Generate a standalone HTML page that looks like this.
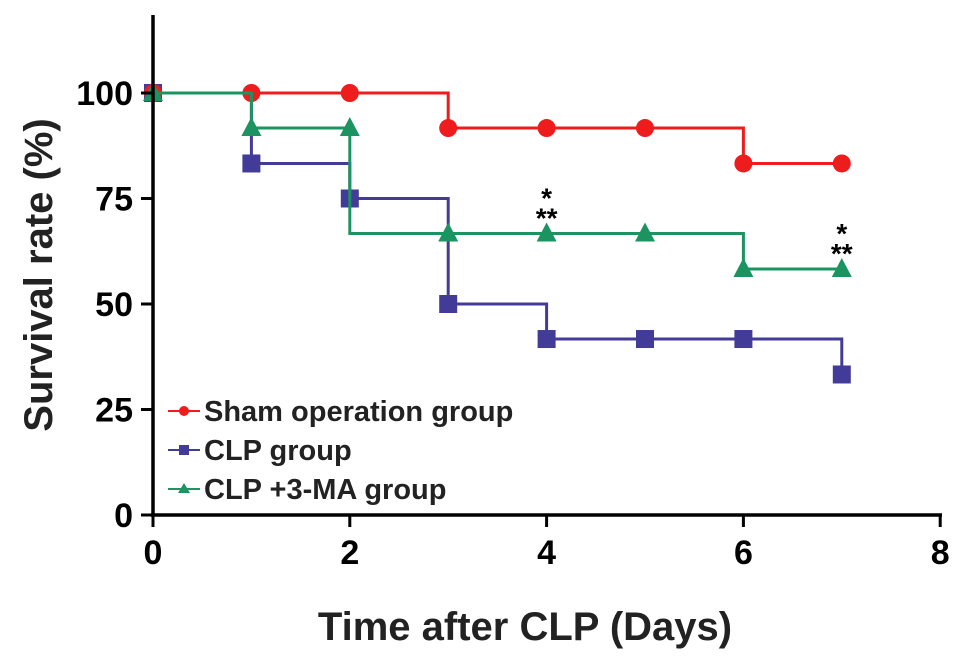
<!DOCTYPE html>
<html><head><meta charset="utf-8"><style>
body{margin:0;background:#fff;}
svg text{font-family:"Liberation Sans",Arial,sans-serif;font-weight:bold;}
</style></head><body>
<svg id="chart" width="969" height="657" xmlns="http://www.w3.org/2000/svg"></svg>
<script>
const days=[0,1,2,3,4,5,6,7];
const shamLine=[100,100,100,91.7,91.7,91.7,83.3,83.3];
const shamMarks=[100,100,100,91.7,91.7,91.7,83.3,83.3];
const clpLine=[100,83.3,75,50,41.7,41.7,41.7,33.3];
const clpMarks=[100,83.3,75,50,41.7,41.7,41.7,33.3];
const maLine=[100,91.7,66.7,66.7,66.7,66.7,58.3,58.3];
const maMarks=[100,91.7,91.7,66.7,66.7,66.7,58.3,58.3];
const xTicks=[0,2,4,6,8];
const yTicks=[0,25,50,75,100];
const sigDays=[4,7];
const sigVals=[66.7,58.3];

const svg=document.getElementById('chart');
const NS='http://www.w3.org/2000/svg';
const X=d=>153+d*98.4;
const Y=v=>515-v*4.22;
function mk(tag,attrs,name,parent){const e=document.createElementNS(NS,tag);for(const k in attrs)e.setAttribute(k,attrs[k]);


(parent||svg).appendChild(e);return e;}

function series(line,marks,color,shape,name){
 const g=mk('g',{},name+'-series');
 let d='M'+X(days[0])+','+Y(line[0]);
 for(let i=1;i<days.length;i++){d+=' H'+X(days[i])+' V'+Y(line[i]);}
 mk('path',{d:d,fill:'none',stroke:color,'stroke-width':3},name+'-line',g);
 marks.forEach((v,i)=>{const x=X(days[i]),y=Y(v);
  if(shape==='c')mk('circle',{cx:x,cy:y,r:9,fill:color},name+'-point',g);
  else if(shape==='s')mk('rect',{x:x-9,y:y-9,width:18,height:18,fill:color},name+'-point',g);
  else mk('polygon',{points:`${x},${y-11} ${x-10},${y+8} ${x+10},${y+8}`,fill:color},name+'-point',g);
 });
}
series(clpLine,clpMarks,'#433b98','s','clp');
series(shamLine,shamMarks,'#ee1c1c','c','sham');
series(maLine,maMarks,'#1c9461','t','clp-3ma');

mk('line',{x1:153,y1:15,x2:153,y2:517,stroke:'#000','stroke-width':3.5},'y-axis');
mk('line',{x1:151,y1:515,x2:942,y2:515,stroke:'#000','stroke-width':3.5},'x-axis');
xTicks.forEach(t=>{mk('line',{x1:X(t),y1:515,x2:X(t),y2:527,stroke:'#000','stroke-width':3},'x-tick');
 const tx=mk('text',{x:X(t),y:564,'text-anchor':'middle','font-size':34},'x-tick-label');tx.textContent=t;});
yTicks.forEach(t=>{mk('line',{x1:141,y1:Y(t),x2:153,y2:Y(t),stroke:'#000','stroke-width':3},'y-tick');
 const tx=mk('text',{x:133,y:Y(t)+12,'text-anchor':'end','font-size':34},'y-tick-label');tx.textContent=t;});
const xt=mk('text',{x:525,y:640,'text-anchor':'middle','font-size':40,fill:'#222'},'x-axis-title');xt.textContent='Time after CLP (Days)';
const yt=mk('text',{x:52,y:275,'text-anchor':'middle','font-size':40,fill:'#222',transform:'rotate(-90 52 275)'},'y-axis-title');yt.textContent='Survival rate (%)';

sigDays.forEach((d,i)=>{const y=Y(sigVals[i]);
 const a=mk('text',{x:X(d),y:y-26,'text-anchor':'middle','font-size':28},'significance-star');a.textContent='*';
 const b=mk('text',{x:X(d),y:y-6,'text-anchor':'middle','font-size':28},'significance-star');b.textContent='**';});

const leg=[['Sham operation group','#ee1c1c','c'],['CLP group','#433b98','s'],['CLP +3-MA group','#1c9461','t']];
leg.forEach((l,i)=>{const y=411+i*39;const g=mk('g',{},'legend-entry');
 mk('line',{x1:168,y1:y,x2:200,y2:y,stroke:l[1],'stroke-width':2},'legend-line',g);
 if(l[2]==='c')mk('circle',{cx:184,cy:y,r:5,fill:l[1]},'legend-marker',g);
 else if(l[2]==='s')mk('rect',{x:179,y:y-5,width:10,height:10,fill:l[1]},'legend-marker',g);
 else mk('polygon',{points:`184,${y-6} 178,${y+4} 190,${y+4}`,fill:l[1]},'legend-marker',g);
 const t=mk('text',{x:204,y:y+10,'font-size':29,fill:'#222'},'legend-label',g);t.textContent=l[0];});
</script>
</body></html>
